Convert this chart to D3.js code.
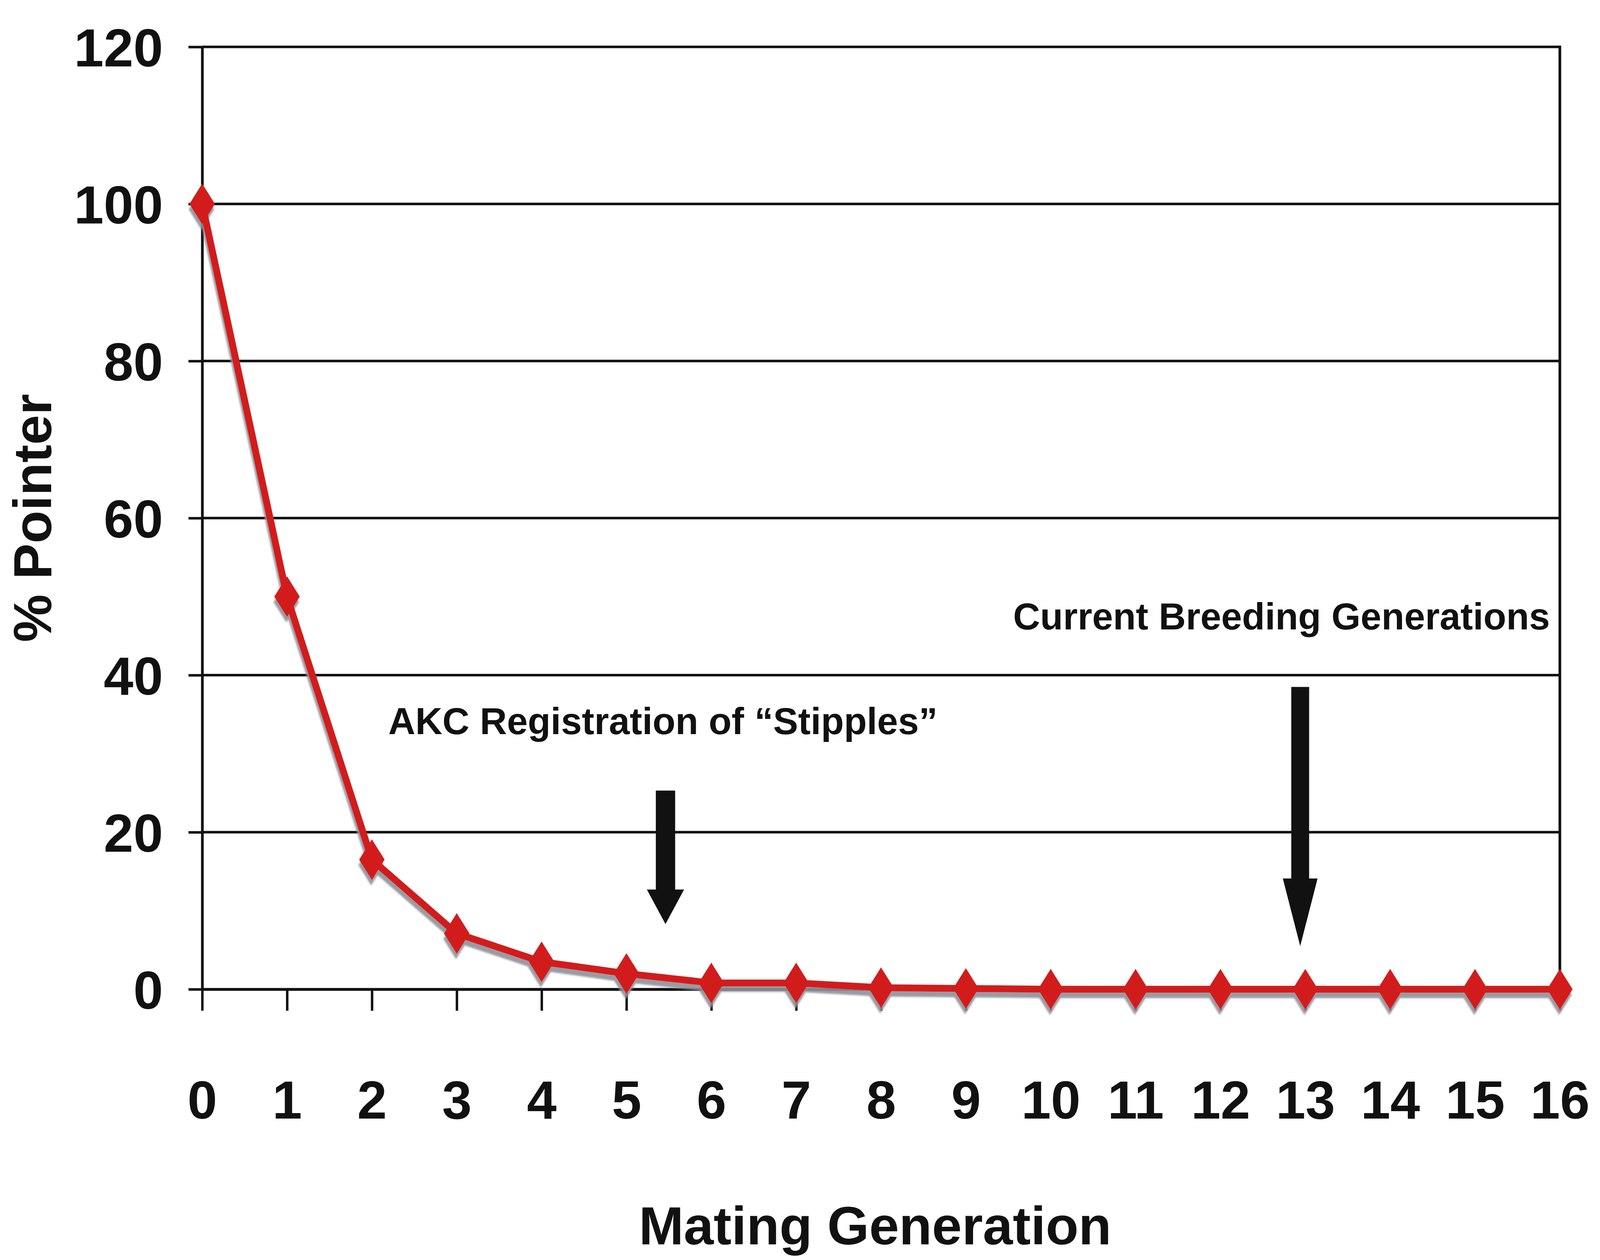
<!DOCTYPE html>
<meta charset="utf-8">
<script src="https://d3js.org/d3.v7.min.js"></script>
<style>
  html, body { margin: 0; padding: 0; background: #fff; overflow: hidden; }
  svg { display: block; }
  text { font-family: "Liberation Sans", Arial, sans-serif; font-weight: bold; fill: #111; }
</style>
<div id="my_dataviz"></div>
<script>

// data
var generations = [0, 1, 2, 3, 4, 5, 6, 7, 8, 9, 10, 11, 12, 13, 14, 15, 16];
var pointerPct  = [100, 50, 16.5, 7.1, 3.5, 2.0, 0.8, 0.8, 0.2, 0.1, 0, 0, 0, 0, 0, 0, 0];
var yTicks = [0, 20, 40, 60, 80, 100, 120];

// annotations (x = centre in generations, y = baseline in %)
var notes = [
  {text: "AKC Registration of \u201CStipples\u201D", x: 5.43, y: 32.5},
  {text: "Current Breeding Generations", x: 12.72, y: 45.8}
];
var arrows = [
  {x: 5.46, top: 25.3, head: 12.7, tip: 8.3, shaft: 79, headW: 152},
  {x: 12.94, top: 38.5, head: 14.1, tip: 5.5, shaft: 73, headW: 142}
];

// layout was measured on a 6537 x 3225 picture; scale it to the actual window
var W = window.innerWidth || 6537, H = window.innerHeight || 3225;
var sx = W / 6537, sy = H / 3225;
var fs = Math.min(sx * 1.1, sy);     // labels
var fsNote = Math.min(sx, sy);       // annotations
var sw = Math.min(sx, sy);           // strokes

var margin = {top: 120 * sy, right: 164 * sx, bottom: 693 * sy, left: 826 * sx},
    width = W - margin.left - margin.right,
    height = H - margin.top - margin.bottom;

var svg = d3.select("#my_dataviz")
  .append("svg")
    .attr("width", W)
    .attr("height", H)
    .style("background", "#fff");

var f = svg.append("defs").append("filter").attr("id", "shadow")
    .attr("x", "-5%").attr("y", "-5%").attr("width", "110%").attr("height", "115%");
f.append("feDropShadow")
    .attr("dx", -3 * sx).attr("dy", 14 * sy).attr("stdDeviation", 3 * sw)
    .attr("flood-color", "#8f9098").attr("flood-opacity", 0.9);

var g = svg.append("g")
    .attr("transform", "translate(" + margin.left + "," + margin.top + ")");

var x = d3.scaleLinear().domain([0, 16]).range([0, width]);
var y = d3.scaleLinear().domain([0, 120]).range([height, 0]);

// horizontal grid lines
g.selectAll("line.grid")
  .data(yTicks)
  .enter()
  .append("line")
    .attr("class", "grid")
    .attr("x1", 0).attr("x2", width)
    .attr("y1", function(d) { return y(d); })
    .attr("y2", function(d) { return y(d); })
    .attr("stroke", "#111")
    .attr("stroke-width", 10 * sw);

// right border
g.append("line")
  .attr("x1", width).attr("x2", width)
  .attr("y1", y(120) - 5 * sw).attr("y2", height)
  .attr("stroke", "#111").attr("stroke-width", 11 * sw);

// Y axis
var yAxis = g.append("g")
  .call(d3.axisLeft(y).tickValues(yTicks).tickSize(56 * sx).tickSizeOuter(0).tickPadding(104 * sx));
yAxis.select(".domain").attr("stroke", "#111").attr("stroke-width", 11 * sw);
yAxis.selectAll(".tick line").attr("stroke", "#111").attr("stroke-width", 10 * sw);
yAxis.selectAll("text")
  .attr("dy", "0.36em")
  .style("font-size", (198 * fs) + "px")
  .style("font-family", "'Liberation Sans', Arial, sans-serif")
  .style("font-weight", "bold")
  .attr("fill", "#111");

// X axis
var xFont = 198 * fs;
var xAxis = g.append("g")
  .attr("transform", "translate(0," + height + ")")
  .call(d3.axisBottom(x).tickValues(generations).tickFormat(d3.format("d"))
    .tickSize(55 * sy).tickSizeOuter(0)
    .tickPadding((2863 - 2532 - 55) * sy - 0.71 * xFont));
xAxis.select(".domain").attr("stroke", "#111").attr("stroke-width", 11 * sw);
xAxis.selectAll(".tick line").attr("stroke", "#111").attr("stroke-width", 10 * sw);
xAxis.selectAll("text")
  .style("font-size", xFont + "px")
  .style("font-family", "'Liberation Sans', Arial, sans-serif")
  .style("font-weight", "bold")
  .attr("fill", "#111");

// series line + diamond markers, with a grey drop shadow
var series = g.append("g").attr("filter", "url(#shadow)");
var pts = generations.map(function(d, i) { return [d, pointerPct[i]]; });

series.append("path")
  .datum(pts)
  .attr("fill", "none")
  .attr("stroke", "#d21d1d")
  .attr("stroke-width", 22 * Math.sqrt(sx * sy))
  .attr("stroke-linejoin", "round")
  .attr("d", d3.line()
    .x(function(d) { return x(d[0]); })
    .y(function(d) { return y(d[1]); }));

var mw = 52 * sx, mh = 52 * sy;
series.selectAll("path.mark")
  .data(pts)
  .enter()
  .append("path")
    .attr("class", "mark")
    .attr("d", function(d) {
      var cx = x(d[0]), cy = y(d[1]);
      return "M" + cx + "," + (cy - mh) + "L" + (cx + mw) + "," + cy +
             "L" + cx + "," + (cy + mh) + "L" + (cx - mw) + "," + cy + "Z";
    })
    .attr("fill", "#d21d1d");

// arrows
g.selectAll("path.arrow")
  .data(arrows)
  .enter()
  .append("path")
    .attr("class", "arrow")
    .attr("fill", "#111")
    .attr("d", function(d) {
      var cx = x(d.x), s = d.shaft * sx / 2, h = d.headW * sx / 2;
      return "M" + (cx - s) + "," + y(d.top) +
             "L" + (cx + s) + "," + y(d.top) +
             "L" + (cx + s) + "," + y(d.head) +
             "L" + (cx + h) + "," + y(d.head) +
             "L" + cx + "," + y(d.tip) +
             "L" + (cx - h) + "," + y(d.head) +
             "L" + (cx - s) + "," + y(d.head) + "Z";
    });

// annotation texts
g.selectAll("text.note")
  .data(notes)
  .enter()
  .append("text")
    .attr("class", "note")
    .attr("x", function(d) { return x(d.x); })
    .attr("y", function(d) { return y(d.y); })
    .style("text-anchor", "middle")
    .style("font-size", (153 * fsNote) + "px")
    .text(function(d) { return d.text; });

// Y axis label
g.append("text")
  .attr("transform", "rotate(-90)")
  .attr("y", 209 * sx - margin.left)
  .attr("x", 0 - (height / 2))
  .style("text-anchor", "middle")
  .style("font-size", (200 * fs) + "px")
  .text("% Pointer");

// X axis label
g.append("text")
  .attr("transform", "translate(" + (width / 2 - 24 * sx) + "," + (3185 * sy - margin.top) + ")")
  .style("text-anchor", "middle")
  .style("font-size", (200 * fs) + "px")
  .text("Mating Generation");

</script>
